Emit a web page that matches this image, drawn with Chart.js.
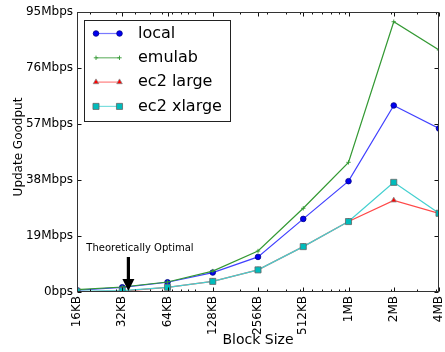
<!DOCTYPE html>
<html>
<head>
<meta charset="utf-8">
<script src="https://cdn.jsdelivr.net/npm/chart.js@4/dist/chart.umd.min.js"></script>
<style>
  html, body { margin: 0; padding: 0; background: #ffffff; }
  #wrap { width: 445px; height: 352px; position: relative; }
</style>
</head>
<body>
<div id="wrap"><canvas id="chart"></canvas></div>
<script>
// Block sizes on a log2 axis (bytes) and their labels
const BLOCK_LABELS = ['16KB', '32KB', '64KB', '128KB', '256KB', '512KB', '1MB', '2MB', '4MB'];
const BLOCK_BYTES = [16384, 32768, 65536, 131072, 262144, 524288, 1048576, 2097152, 4194304];

// Update goodput per environment, Mbps
const LOCAL      = [0.6, 1.6, 3.3, 6.6, 11.9, 24.8, 37.6, 63.3, 55.5];
const EMULAB     = [0.8, 1.7, 3.4, 7.1, 13.9, 28.4, 44.0, 91.7, 82.1];
const EC2_LARGE  = [0.05, 0.3, 1.6, 3.6, 7.5, 15.4, 23.9, 31.1, 26.7];
const EC2_XLARGE = [0.25, 0.45, 1.6, 3.6, 7.5, 15.4, 23.9, 37.2, 26.7];

const SERIES_NAMES = ['local', 'emulab', 'ec2 large', 'ec2 xlarge'];

// Y axis ticks
const Y_TICKS = [0, 19, 38, 57, 76, 95];
const Y_TICK_LABELS = ['0bps', '19Mbps', '38Mbps', '57Mbps', '76Mbps', '95Mbps'];

// Minor ticks on the block-size axis (bytes)
const MINOR_X_TICKS = [20000, 30000, 40000, 50000, 60000, 70000, 80000, 90000,
  100000, 200000, 300000, 400000, 500000, 600000, 700000, 800000, 900000,
  1000000, 2000000, 3000000, 4000000];

// Annotation: label position and arrow (bytes, Mbps)
const OPTIMAL_TEXT = 'Theoretically Optimal';
const OPTIMAL_TEXT_AT = [43000, 14.7];
const OPTIMAL_ARROW_FROM = [36000, 11.9];
const OPTIMAL_ARROW_TO = [36000, 0.3];

const FONT = 'DejaVu Sans';
Chart.defaults.font.family = FONT;
Chart.defaults.color = '#000000';

function points(values) {
  return BLOCK_BYTES.map((b, i) => ({ x: b, y: values[i] }));
}

const STYLES = [
  { line: '#4040ff', fill: '#0000f0', edge: '#000088', style: 'circle', radius: 2.8 },
  { line: '#339933', fill: '#339933', edge: '#339933', style: 'cross', radius: 2.2 },
  { line: '#ff4848', fill: '#ff0000', edge: '#888888', style: 'triangle', radius: 3.2 },
  { line: '#44d0d0', fill: '#00bcbc', edge: '#666666', style: 'rect', radius: 4.3 }
];
const SERIES_VALUES = [LOCAL, EMULAB, EC2_LARGE, EC2_XLARGE];

const datasets = SERIES_NAMES.map((name, i) => {
  const s = STYLES[i];
  return {
    label: name,
    data: points(SERIES_VALUES[i]),
    borderColor: s.line,
    borderWidth: 1.2,
    backgroundColor: s.fill,
    pointStyle: s.style,
    pointRadius: s.radius,
    pointBackgroundColor: s.fill,
    pointBorderColor: s.edge,
    pointBorderWidth: s.style === 'cross' ? 0.9 : 0.8,
    tension: 0,
    fill: false,
    order: SERIES_NAMES.length - i
  };
});

// Box frame with inward tick marks on all four sides
const framePlugin = {
  id: 'frame',
  afterDatasetsDraw(chart) {
    const { ctx, chartArea: a, scales: { x, y } } = chart;
    const L = Math.round(a.left) + 0.5, R = Math.round(a.right) - 0.5;
    const T = Math.round(a.top) + 0.5, B = Math.round(a.bottom) - 0.5;
    ctx.save();
    ctx.strokeStyle = '#111111';
    ctx.lineWidth = 1;
    ctx.beginPath();
    BLOCK_BYTES.forEach(b => {
      const px = Math.round(x.getPixelForValue(b)) + 0.5;
      ctx.moveTo(px, B); ctx.lineTo(px, B - 4);
      ctx.moveTo(px, T); ctx.lineTo(px, T + 4);
    });
    MINOR_X_TICKS.forEach(b => {
      const px = Math.round(x.getPixelForValue(b)) + 0.5;
      ctx.moveTo(px, B); ctx.lineTo(px, B - 2);
      ctx.moveTo(px, T); ctx.lineTo(px, T + 2);
    });
    Y_TICKS.forEach(v => {
      const py = Math.round(y.getPixelForValue(v)) + 0.5;
      ctx.moveTo(L, py); ctx.lineTo(L + 4, py);
      ctx.moveTo(R, py); ctx.lineTo(R - 4, py);
    });
    ctx.stroke();
    ctx.strokeStyle = '#333333';
    ctx.strokeRect(L, T, R - L, B - T);
    ctx.restore();
  }
};

// Annotation arrow, in-plot legend and the rotated y title
const overlayPlugin = {
  id: 'overlay',
  afterDraw(chart) {
    const { ctx, chartArea: a, scales: { x, y } } = chart;
    ctx.save();

    // y axis title
    ctx.font = '12px "' + FONT + '"';
    ctx.fillStyle = '#000000';
    ctx.textAlign = 'center';
    ctx.textBaseline = 'middle';
    ctx.save();
    ctx.translate(19, (a.top + a.bottom) / 2 - 5);
    ctx.rotate(-Math.PI / 2);
    ctx.fillText('Update Goodput', 0, 0);
    ctx.restore();

    // arrow
    const ax = x.getPixelForValue(OPTIMAL_ARROW_TO[0]);
    const tipY = y.getPixelForValue(OPTIMAL_ARROW_TO[1]);
    const tailY = y.getPixelForValue(OPTIMAL_ARROW_FROM[1]);
    const headLen = 12, headHalf = 6, shaftHalf = 1.6;
    ctx.beginPath();
    ctx.moveTo(ax - shaftHalf, tailY);
    ctx.lineTo(ax + shaftHalf, tailY);
    ctx.lineTo(ax + shaftHalf, tipY - headLen);
    ctx.lineTo(ax + headHalf, tipY - headLen);
    ctx.lineTo(ax, tipY);
    ctx.lineTo(ax - headHalf, tipY - headLen);
    ctx.lineTo(ax - shaftHalf, tipY - headLen);
    ctx.closePath();
    ctx.fill();

    ctx.font = '10px "' + FONT + '"';
    ctx.fillText(OPTIMAL_TEXT, x.getPixelForValue(OPTIMAL_TEXT_AT[0]), y.getPixelForValue(OPTIMAL_TEXT_AT[1]));

    // legend
    const bx = 84.5, by = 20.5, bw = 146, bh = 101;
    ctx.fillStyle = '#ffffff';
    ctx.fillRect(bx, by, bw, bh);
    ctx.strokeStyle = '#222222';
    ctx.lineWidth = 1;
    ctx.strokeRect(bx, by, bw, bh);
    ctx.font = '16px "' + FONT + '"';
    ctx.textAlign = 'left';
    ctx.textBaseline = 'middle';
    chart.data.datasets.forEach((ds, i) => {
      const ey = 33.5 + i * 24.3;
      const x0 = 96, x1 = 119.5;
      ctx.globalAlpha = 0.7;
      ctx.strokeStyle = ds.borderColor;
      ctx.lineWidth = 1.2;
      ctx.beginPath();
      ctx.moveTo(x0, ey); ctx.lineTo(x1, ey);
      ctx.stroke();
      ctx.globalAlpha = 1;
      ctx.fillStyle = ds.pointBackgroundColor;
      ctx.strokeStyle = ds.pointBorderColor;
      ctx.lineWidth = ds.pointBorderWidth;
      [x0, x1].forEach(px => {
        Chart.helpers.drawPoint(ctx, {
          pointStyle: ds.pointStyle, radius: ds.pointRadius, rotation: 0,
          borderWidth: ds.pointBorderWidth
        }, px, ey);
      });
      ctx.fillStyle = '#000000';
      ctx.fillText(ds.label, 138, ey);
    });
    ctx.restore();
  }
};

new Chart(document.getElementById('chart'), {
  type: 'line',
  data: { datasets },
  options: {
    responsive: true,
    maintainAspectRatio: false,
    devicePixelRatio: 1,
    animation: false,
    layout: { padding: { top: 12, right: 6, left: 0, bottom: 0 } },
    plugins: { legend: { display: false }, tooltip: { enabled: false } },
    scales: {
      x: {
        type: 'logarithmic',
        min: BLOCK_BYTES[0],
        max: BLOCK_BYTES[BLOCK_BYTES.length - 1],
        afterBuildTicks: s => { s.ticks = BLOCK_BYTES.map(v => ({ value: v })); },
        afterFit: s => { s.height = 60; s.paddingLeft = 0; s.paddingRight = 0; },
        grid: { display: false, drawTicks: false },
        border: { display: false },
        ticks: {
          autoSkip: false,
          minRotation: 90,
          maxRotation: 90,
          padding: 4,
          font: { size: 12 },
          callback: (v, i) => BLOCK_LABELS[i]
        },
        title: { display: true, text: 'Block Size', font: { size: 14 }, padding: { top: 0, bottom: 3 } }
      },
      y: {
        type: 'linear',
        min: Y_TICKS[0],
        max: Y_TICKS[Y_TICKS.length - 1],
        afterBuildTicks: s => { s.ticks = Y_TICKS.map(v => ({ value: v })); },
        afterFit: s => { s.width = 77; s.paddingTop = 0; s.paddingBottom = 0; },
        grid: { display: false, drawTicks: false },
        border: { display: false },
        ticks: {
          padding: 4,
          font: { size: 12 },
          callback: (v, i) => Y_TICK_LABELS[i]
        }
      }
    }
  },
  plugins: [framePlugin, overlayPlugin]
});
</script>
</body>
</html>
